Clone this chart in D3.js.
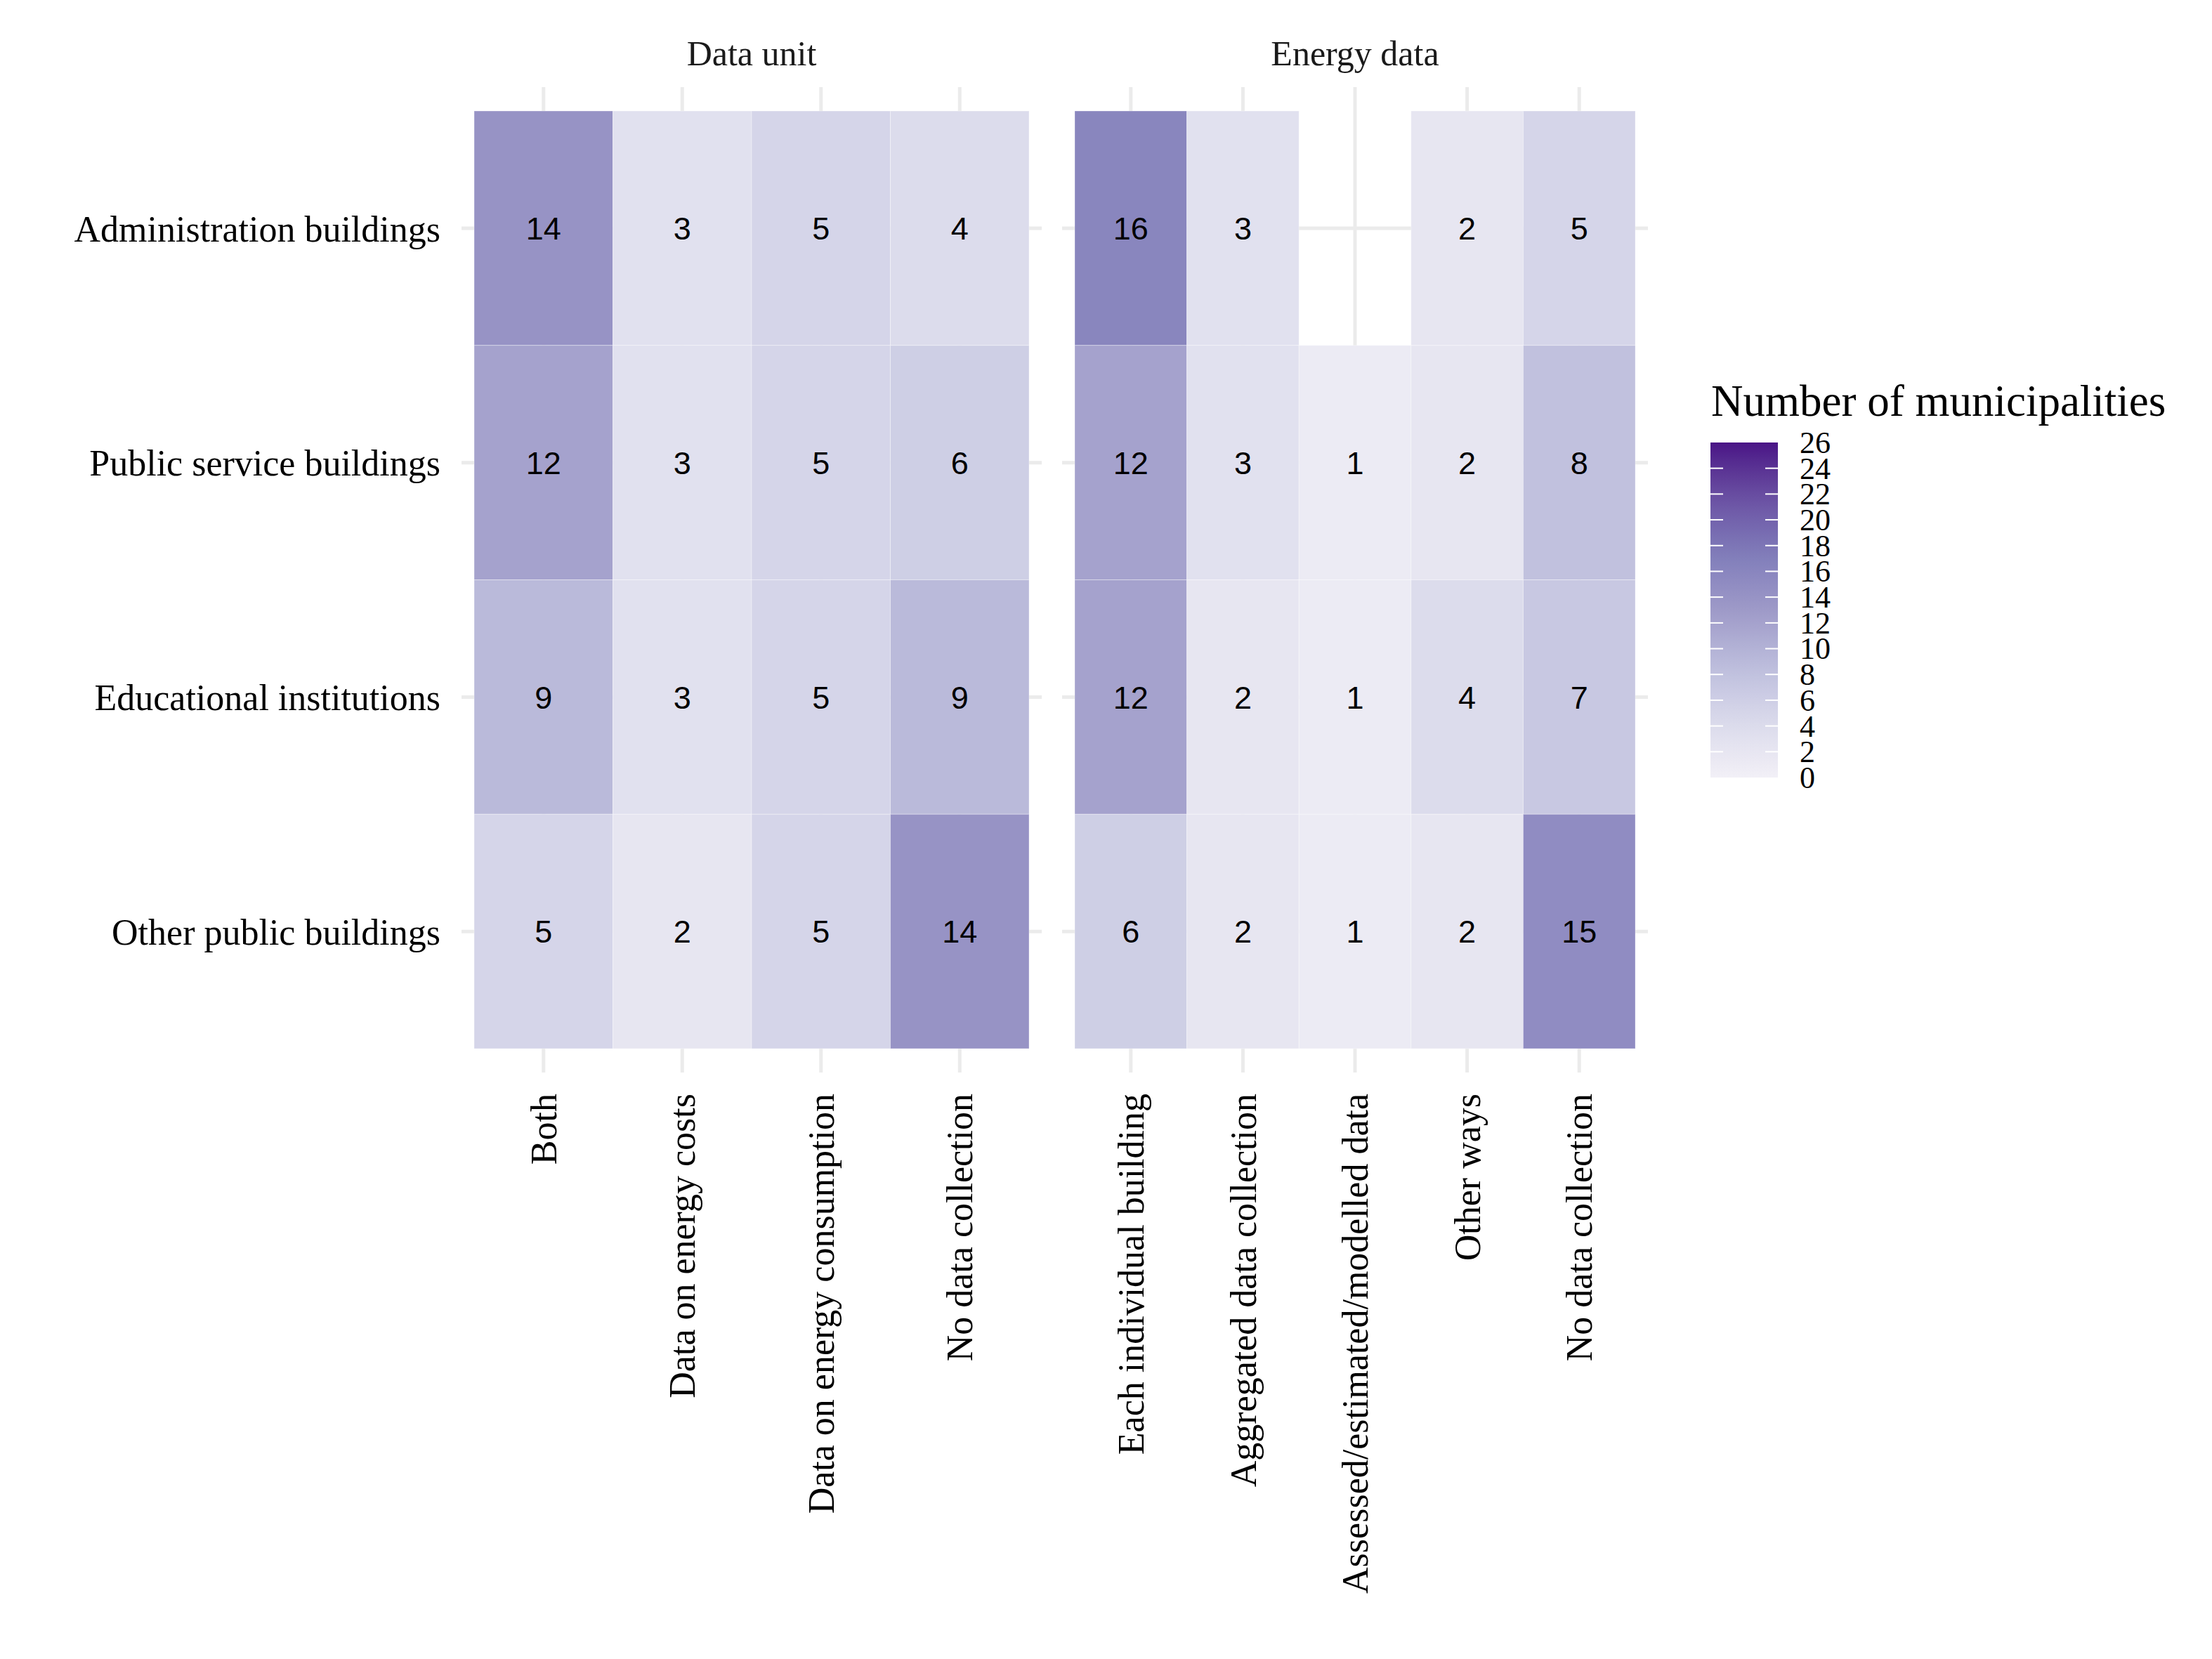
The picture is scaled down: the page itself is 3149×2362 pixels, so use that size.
<!DOCTYPE html>
<html>
<head>
<meta charset="utf-8">
<script src="https://cdn.jsdelivr.net/npm/d3@7"></script>
<style>
  body { margin: 0; background: #fff; }
  svg text { font-family: "Liberation Serif", "DejaVu Serif", serif; }
</style>
</head>
<body>
<svg id="chart"></svg>
<script>
// rows (top to bottom)
const buildingTypes = [
  'Administration buildings',
  'Public service buildings',
  'Educational institutions',
  'Other public buildings',
];

// facet 1: Data unit
const dataUnitCats = ['Both', 'Data on energy costs', 'Data on energy consumption', 'No data collection'];
const dataUnitValues = [
  [14, 3, 5, 4],
  [12, 3, 5, 6],
  [9, 3, 5, 9],
  [5, 2, 5, 14],
];

// facet 2: Energy data (null = no tile)
const energyCats = [
  'Each individual building',
  'Aggregated data collection',
  'Assessed/estimated/modelled data',
  'Other ways',
  'No data collection',
];
const energyValues = [
  [16, 3, null, 2, 5],
  [12, 3, 1, 2, 8],
  [12, 2, 1, 4, 7],
  [6, 2, 1, 2, 15],
];

const facetTitles = ['Data unit', 'Energy data'];
const legendTitle = 'Number of municipalities';
const legendTicks = d3.range(0, 27, 2);
const purples = ['#f2f0f7', '#dadaeb', '#bcbddc', '#9e9ac8', '#807dba', '#6a51a3', '#4a1486'];
const fillMax = 26;

const width = 3149;
const height = 2362;

const svg = d3.select('#chart')
  .attr('width', width)
  .attr('height', height);

const panelTop = 158;
const panelBottom = 1493;
const gridColor = '#ebebeb';

const y = d3.scaleBand()
  .domain(buildingTypes)
  .range([panelTop, panelBottom]);

// brewer Purples, spread evenly over 0..26 like scale_fill_distiller
const color = d3.scaleLinear()
  .domain(d3.range(purples.length).map(i => i * fillMax / (purples.length - 1)))
  .range(purples)
  .interpolate(d3.interpolateLab);

const panels = [
  { title: facetTitles[0], cats: dataUnitCats, values: dataUnitValues, x0: 675, x1: 1465 },
  { title: facetTitles[1], cats: energyCats, values: energyValues, x0: 1530, x1: 2328 },
];

panels.forEach((p, pi) => {
  const x = d3.scaleBand().domain(p.cats).range([p.x0, p.x1]);
  const g = svg.append('g');

  // grid lines, under the tiles
  g.selectAll('line.vgrid')
    .data(p.cats)
    .enter()
    .append('line')
    .attr('x1', d => x(d) + x.bandwidth() / 2)
    .attr('x2', d => x(d) + x.bandwidth() / 2)
    .attr('y1', panelTop - 34)
    .attr('y2', panelBottom + 34)
    .attr('stroke', gridColor)
    .attr('stroke-width', 5);

  g.selectAll('line.hgrid')
    .data(buildingTypes)
    .enter()
    .append('line')
    .attr('x1', p.x0 - 18)
    .attr('x2', p.x1 + 18)
    .attr('y1', d => y(d) + y.bandwidth() / 2)
    .attr('y2', d => y(d) + y.bandwidth() / 2)
    .attr('stroke', gridColor)
    .attr('stroke-width', 5);

  const cells = [];
  p.values.forEach((row, ri) => {
    row.forEach((v, ci) => {
      if (v !== null) cells.push({ row: buildingTypes[ri], cat: p.cats[ci], value: v });
    });
  });

  g.selectAll('rect')
    .data(cells)
    .enter()
    .append('rect')
    .attr('x', d => x(d.cat))
    .attr('y', d => y(d.row))
    .attr('width', x.bandwidth())
    .attr('height', y.bandwidth())
    .attr('fill', d => color(d.value))
    .attr('stroke', 'rgba(255,255,255,0.35)')
    .attr('stroke-width', 1);

  g.selectAll('text.val')
    .data(cells)
    .enter()
    .append('text')
    .attr('x', d => x(d.cat) + x.bandwidth() / 2)
    .attr('y', d => y(d.row) + y.bandwidth() / 2)
    .attr('dy', '0.36em')
    .attr('text-anchor', 'middle')
    .style('font-family', '"Liberation Sans", Arial, sans-serif')
    .style('font-size', '45px')
    .attr('fill', '#000')
    .text(d => d.value);

  // facet strip
  svg.append('text')
    .attr('x', (p.x0 + p.x1) / 2)
    .attr('y', 93)
    .attr('text-anchor', 'middle')
    .style('font-size', '50px')
    .attr('fill', '#1a1a1a')
    .text(p.title);

  // x axis labels (rotated)
  const xAxis = svg.append('g')
    .attr('transform', `translate(0,${panelBottom})`)
    .call(d3.axisBottom(x).tickSize(0).tickPadding(0));
  xAxis.select('.domain').remove();
  xAxis.selectAll('text')
    .attr('transform', 'translate(0,64) rotate(-90)')
    .attr('x', 0)
    .attr('y', 0)
    .attr('dy', '0.35em')
    .attr('text-anchor', 'end')
    .style('font-family', '"Liberation Serif", serif')
    .style('font-size', '52px')
    .attr('fill', '#000');

  if (pi === 0) {
    const yAxis = svg.append('g')
      .attr('transform', `translate(${p.x0},0)`)
      .call(d3.axisLeft(y).tickSize(0).tickPadding(48));
    yAxis.select('.domain').remove();
    yAxis.selectAll('text')
      .attr('dy', '0.36em')
      .style('font-family', '"Liberation Serif", serif')
      .style('font-size', '52px')
      .attr('fill', '#000');
  }
});

// legend
const lg = svg.append('g');
const barX = 2435;
const barW = 96;
const ly = d3.scaleLinear().domain([0, fillMax]).range([1107, 630]);

const defs = svg.append('defs');
const grad = defs.append('linearGradient')
  .attr('id', 'fillgrad')
  .attr('x1', 0).attr('y1', 1).attr('x2', 0).attr('y2', 0);
d3.range(0, 1.0001, 0.05).forEach(t => {
  grad.append('stop')
    .attr('offset', t)
    .attr('stop-color', color(t * fillMax));
});

lg.append('rect')
  .attr('x', barX)
  .attr('y', ly(fillMax))
  .attr('width', barW)
  .attr('height', ly(0) - ly(fillMax))
  .attr('fill', 'url(#fillgrad)');

lg.selectAll('line.tl')
  .data(legendTicks.filter(d => d > 0 && d < fillMax))
  .enter()
  .append('line')
  .attr('x1', barX)
  .attr('x2', barX + 18)
  .attr('y1', d => ly(d))
  .attr('y2', d => ly(d))
  .attr('stroke', '#fff')
  .attr('stroke-width', 2);

lg.selectAll('line.tr')
  .data(legendTicks.filter(d => d > 0 && d < fillMax))
  .enter()
  .append('line')
  .attr('x1', barX + barW - 18)
  .attr('x2', barX + barW)
  .attr('y1', d => ly(d))
  .attr('y2', d => ly(d))
  .attr('stroke', '#fff')
  .attr('stroke-width', 2);

lg.selectAll('text.lab')
  .data(legendTicks)
  .enter()
  .append('text')
  .attr('x', 2562)
  .attr('y', d => ly(d))
  .attr('dy', '0.34em')
  .style('font-size', '44px')
  .attr('fill', '#000')
  .text(d => d);

lg.append('text')
  .attr('x', 2436)
  .attr('y', 592)
  .style('font-size', '63px')
  .attr('fill', '#000')
  .text(legendTitle);
</script>
</body>
</html>
